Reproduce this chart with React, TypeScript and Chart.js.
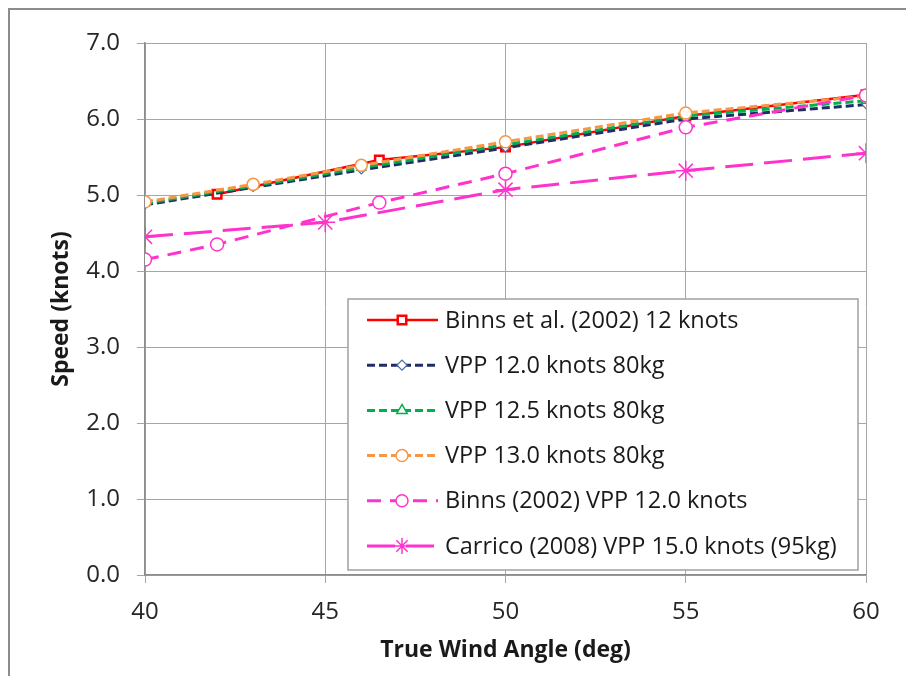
import React, { useEffect, useRef } from 'react';
import { Chart, registerables } from 'chart.js';
import { drawPoint } from 'chart.js/helpers';

Chart.register(...registerables);

// Axis ticks
const xTickValues = [40, 45, 50, 55, 60];
const yTickValues = [0, 1, 2, 3, 4, 5, 6, 7];

// Series data
const seriesLabels = [
  'Binns et al. (2002) 12 knots',
  'VPP 12.0 knots 80kg',
  'VPP 12.5 knots 80kg',
  'VPP 13.0 knots 80kg',
  'Binns (2002) VPP 12.0 knots',
  'Carrico (2008) VPP 15.0 knots (95kg)',
];

const binnsEtAlAngle = [42, 46.5, 50, 55, 60];
const binnsEtAlSpeed = [5.01, 5.46, 5.63, 6.04, 6.32];

const vppAngle = [40, 43, 46, 50, 55, 60];
const vpp120Speed = [4.87, 5.1, 5.33, 5.62, 6.0, 6.19];
const vpp125Speed = [4.89, 5.12, 5.36, 5.66, 6.04, 6.24];
const vpp130Speed = [4.91, 5.14, 5.39, 5.7, 6.08, 6.3];

const binnsVppAngle = [40, 42, 46.5, 50, 55, 60];
const binnsVppSpeed = [4.15, 4.35, 4.9, 5.28, 5.89, 6.31];

const carricoAngle = [40, 45, 50, 55, 60];
const carricoSpeed = [4.45, 4.64, 5.07, 5.32, 5.55];

const FONT = '"Open Sans", "Noto Sans", sans-serif';

const pts = (xs: number[], ys: number[]) => xs.map((x, i) => ({ x, y: ys[i] }));

const framePlugin = {
  id: 'frame',
  beforeDraw(chart: any) {
    const ctx = chart.ctx;
    ctx.save();
    ctx.fillStyle = '#ffffff';
    ctx.fillRect(0, 0, chart.width, chart.height);
    ctx.strokeStyle = '#8c8c8c';
    ctx.lineWidth = 2;
    ctx.beginPath();
    ctx.moveTo(1, chart.height);
    ctx.lineTo(1, 1);
    ctx.lineTo(chart.width, 1);
    ctx.stroke();
    ctx.restore();
  },
};

const boxLegendPlugin = {
  id: 'boxLegend',
  afterDraw(chart: any) {
    const ctx = chart.ctx;
    const bx = 340, by = 291, bw = 510, bh = 271;
    const rowTop = 312, rowGap = 45.2;
    ctx.save();
    ctx.fillStyle = '#ffffff';
    ctx.fillRect(bx, by, bw, bh);
    ctx.strokeStyle = '#a0a0a0';
    ctx.lineWidth = 1.5;
    ctx.strokeRect(bx, by, bw, bh);
    chart.data.datasets.forEach((ds: any, i: number) => {
      const y = rowTop + i * rowGap;
      ctx.save();
      ctx.strokeStyle = ds.borderColor;
      ctx.lineWidth = ds.borderWidth;
      ctx.setLineDash(ds.borderDash || []);
      ctx.beginPath();
      ctx.moveTo(359, y);
      ctx.lineTo(430, y);
      ctx.stroke();
      ctx.setLineDash([]);
      ctx.fillStyle = ds.pointBackgroundColor;
      ctx.strokeStyle = ds.pointBorderColor;
      ctx.lineWidth = ds.pointBorderWidth;
      drawPoint(ctx, {
        pointStyle: ds.pointStyle,
        radius: ds.legendRadius,
        borderWidth: ds.pointBorderWidth,
        rotation: 0,
      } as any, 394, y);
      ctx.restore();
      ctx.fillStyle = '#1a1a1a';
      ctx.font = `23.5px ${FONT}`;
      ctx.textBaseline = 'middle';
      ctx.textAlign = 'left';
      ctx.fillText(ds.label, 437, y + 1);
    });
    ctx.restore();
  },
};

export default function App() {
  const ref = useRef<HTMLCanvasElement | null>(null);

  useEffect(() => {
    if (!ref.current) return;
    const mk = (
      i: number,
      data: { x: number; y: number }[],
      color: string,
      width: number,
      dash: number[],
      style: string,
      radius: number,
      legendRadius: number,
      pbw: number,
      markerColor?: string
    ) => ({
      label: seriesLabels[i],
      data,
      borderColor: color,
      backgroundColor: color,
      borderWidth: width,
      borderDash: dash,
      pointStyle: style,
      pointRadius: radius,
      legendRadius,
      pointBorderWidth: pbw,
      pointBorderColor: markerColor || color,
      pointBackgroundColor: '#ffffff',
      tension: 0,
      order: 10 - i,
    });

    const chart = new Chart(ref.current, {
      type: 'line',
      data: {
        datasets: [
          mk(0, pts(binnsEtAlAngle, binnsEtAlSpeed), '#ff0000', 2.5, [], 'rect', 6, 6, 2.5),
          mk(1, pts(vppAngle, vpp120Speed), '#1f2f66', 3, [8, 4], 'rectRot', 4, 5, 1.2, '#4a68a8'),
          mk(2, pts(vppAngle, vpp125Speed), '#00b050', 3, [8, 4], 'triangle', 5, 6, 1.5),
          mk(3, pts(vppAngle, vpp130Speed), '#f79646', 3, [8, 4], 'circle', 6, 6, 1.5),
          mk(4, pts(binnsVppAngle, binnsVppSpeed), '#ff33cc', 3, [14, 9], 'circle', 6.5, 6, 1.5),
          mk(5, pts(carricoAngle, carricoSpeed), '#ff33cc', 3, [28, 11], 'star', 10, 8, 1.5),
        ] as any,
      },
      options: {
        animation: false,
        responsive: false,
        maintainAspectRatio: false,
        layout: { padding: { left: 0, right: 40, top: 35, bottom: 0 } },
        plugins: {
          legend: { display: false },
          tooltip: { enabled: false },
        },
        scales: {
          x: {
            type: 'linear',
            min: 40,
            max: 60,
            afterBuildTicks: (s: any) => {
              s.ticks = xTickValues.map((v) => ({ value: v }));
            },
            afterFit: (s: any) => {
              s.height = 101;
            },
            ticks: {
              color: '#262626',
              font: { family: FONT, size: 24 },
              padding: 15,
              maxRotation: 0,
              callback: (v: any) => String(v),
            },
            grid: { color: '#a6a6a6', lineWidth: 1, tickLength: 8, drawTicks: true },
            border: { color: '#8c8c8c', width: 1.5 },
            title: {
              display: true,
              text: 'True Wind Angle (deg)',
              color: '#1a1a1a',
              font: { family: FONT, size: 23, weight: 'bold' },
              padding: 12,
            },
          },
          y: {
            type: 'linear',
            min: 0,
            max: 7,
            afterBuildTicks: (s: any) => {
              s.ticks = yTickValues.map((v) => ({ value: v }));
            },
            afterFit: (s: any) => {
              s.width = 137;
            },
            ticks: {
              color: '#262626',
              font: { family: FONT, size: 24 },
              padding: 17,
              callback: (v: any) => Number(v).toFixed(1),
            },
            grid: { color: '#a6a6a6', lineWidth: 1, tickLength: 8, drawTicks: true },
            border: { color: '#8c8c8c', width: 1.5 },
            title: {
              display: true,
              text: 'Speed (knots)',
              color: '#1a1a1a',
              font: { family: FONT, size: 23, weight: 'bold' },
              padding: 40,
            },
          },
        },
      },
      plugins: [framePlugin, boxLegendPlugin],
    } as any);
    return () => chart.destroy();
  }, []);

  return (
    <div style={{ width: 898, height: 668, overflow: 'hidden' }}>
      <canvas ref={ref} width={898} height={668} style={{ display: 'block' }} />
    </div>
  );
}
